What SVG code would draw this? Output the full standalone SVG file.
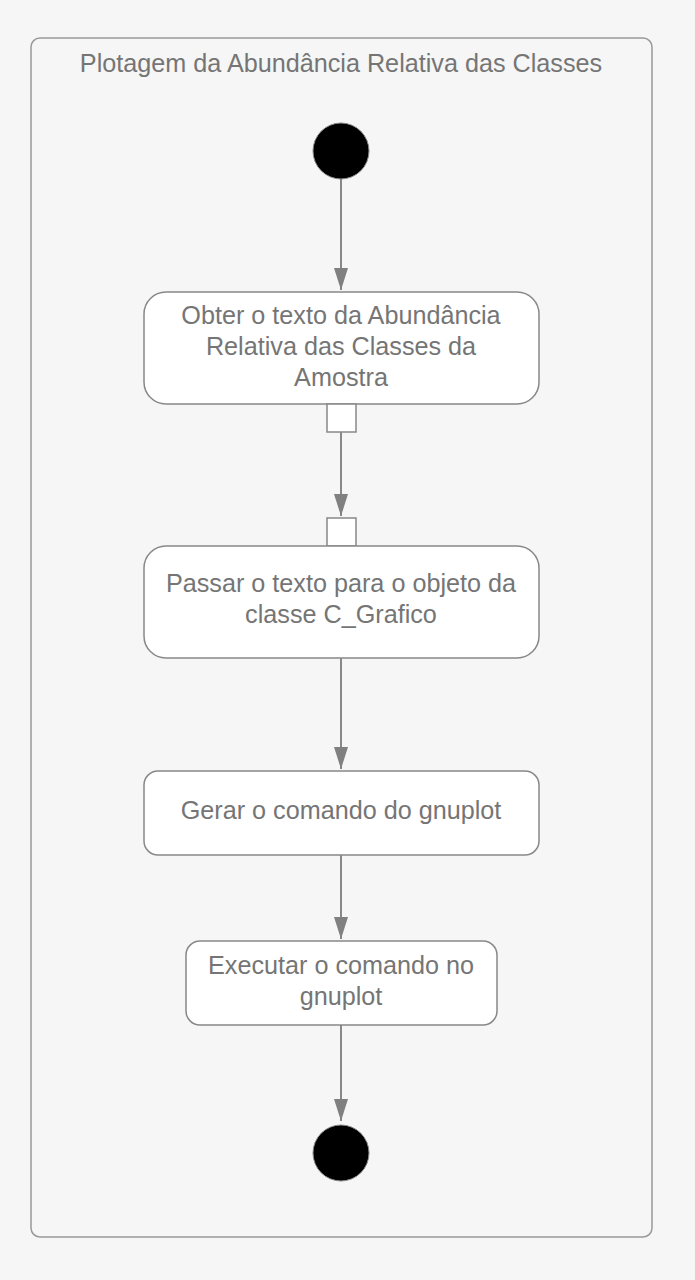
<svg xmlns="http://www.w3.org/2000/svg" width="695" height="1280" viewBox="0 0 695 1280">
<defs>
<style>
.t{font-family:"Liberation Sans",Arial,sans-serif;font-size:25.2px;fill:#757575;text-anchor:middle;dominant-baseline:central}
.box{fill:#ffffff;stroke:#888888;stroke-width:1.5}
.pin{fill:#ffffff;stroke:#888888;stroke-width:1.5}
.c{stroke:#888888;stroke-width:2;fill:none;marker-end:url(#ah)}
.dot{fill:#000000;stroke:#888888;stroke-width:1}
</style>
<marker id="ah" markerWidth="22" markerHeight="14" refX="22" refY="7" orient="auto" markerUnits="userSpaceOnUse" viewBox="0 0 22 14">
<path d="M0,0 L22,7 L0,14 Z" fill="#808080"/>
</marker>
</defs>
<rect x="0" y="0" width="695" height="1280" fill="#f6f6f6"/>
<g id="frame">
<rect x="31" y="38" width="621" height="1199" rx="9" fill="#f6f6f6" stroke="#999999" stroke-width="1.5"/>
<text class="t" x="341" y="63">Plotagem da Abundância Relativa das Classes</text>
</g>
<g id="connectors">
<line class="c" x1="341" y1="179" x2="341" y2="290"/>
<line class="c" x1="341" y1="432" x2="341" y2="516"/>
<line class="c" x1="341" y1="658" x2="341" y2="769"/>
<line class="c" x1="341" y1="855" x2="341" y2="939"/>
<line class="c" x1="341" y1="1025" x2="341" y2="1121"/>
</g>
<g id="start">
<circle class="dot" cx="341" cy="151" r="28"/>
</g>
<g id="n1">
<rect class="box" x="144" y="292" width="395" height="112" rx="22"/>
<text class="t" x="341" y="315">Obter o texto da Abundância</text>
<text class="t" x="341" y="346">Relativa das Classes da</text>
<text class="t" x="341" y="377">Amostra</text>
<rect class="pin" x="327" y="404" width="29" height="28"/>
</g>
<g id="n2">
<rect class="pin" x="327" y="518" width="29" height="28"/>
<rect class="box" x="144" y="546" width="395" height="112" rx="22"/>
<text class="t" x="341" y="583">Passar o texto para o objeto da</text>
<text class="t" x="341" y="614">classe C_Grafico</text>
</g>
<g id="n3">
<rect class="box" x="144" y="771" width="395" height="84" rx="14"/>
<text class="t" x="341" y="810">Gerar o comando do gnuplot</text>
</g>
<g id="n4">
<rect class="box" x="186" y="941" width="311" height="84" rx="14"/>
<text class="t" x="341" y="965">Executar o comando no</text>
<text class="t" x="341" y="996">gnuplot</text>
</g>
<g id="end">
<circle class="dot" cx="341" cy="1153" r="28"/>
</g>
</svg>
